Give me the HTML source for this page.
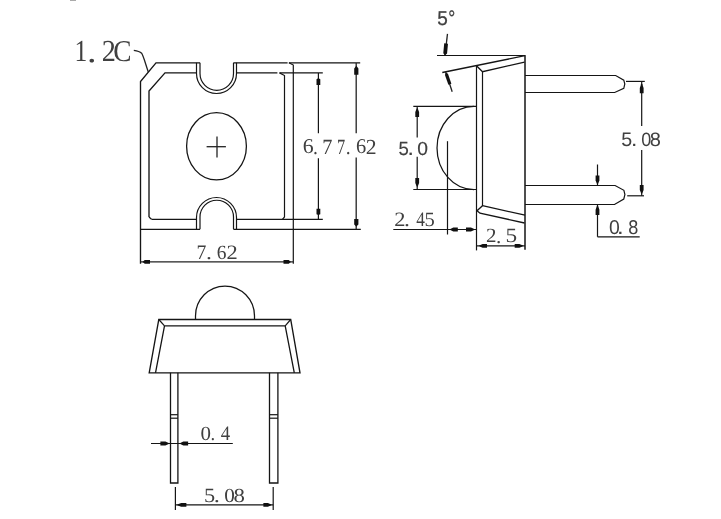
<!DOCTYPE html>
<html><head><meta charset="utf-8"><style>
html,body{margin:0;padding:0;background:#fff;}
body{width:721px;height:519px;overflow:hidden;font-family:"Liberation Sans", sans-serif;}
svg{display:block;will-change:transform;} text{text-rendering:geometricPrecision;}
</style></head><body>
<svg width="721" height="519" viewBox="0 0 721 519">
<rect width="721" height="519" fill="#fff"/>
<path d="M133.8,50.3 C137,50.8 139.5,51.2 141.6,53.2 C143.5,56 145.5,64 148.3,72" stroke="#222" stroke-width="1.3" fill="none"/>
<path d="M140.5,263.7 V81.5 L156,62.8 H200" stroke="#151515" stroke-width="1.35" fill="none"/>
<path d="M233.5,62.8 H287.6 M288.9,62.8 H360.2" stroke="#151515" stroke-width="1.35" fill="none"/>
<path d="M196.5,62.8 V73.5 A20,20 0 0 0 236.5,73.5 V62.8" stroke="#151515" stroke-width="1.2" fill="none"/>
<path d="M200,62.8 V73.6 A16.75,16.75 0 0 0 233.5,73.6 V62.8" stroke="#151515" stroke-width="1.2" fill="none"/>
<path d="M149,217 V91 L165,72.9 H196.5" stroke="#151515" stroke-width="1.35" fill="none"/>
<path d="M236.5,72.9 H277.4 M279.5,72.9 H322.8" stroke="#151515" stroke-width="1.35" fill="none"/>
<path d="M279.5,72.9 L284.5,75.5 V217 L282.4,219.3" stroke="#151515" stroke-width="1.2" fill="none"/>
<path d="M288.9,62.8 L293.3,65 V263.7" stroke="#151515" stroke-width="1.2" fill="none"/>
<path d="M151.5,219.3 L149,217" stroke="#151515" stroke-width="1.2" fill="none"/>
<path d="M151.5,219.3 H196.5 M236.5,219.3 H322.8" stroke="#151515" stroke-width="1.3" fill="none"/>
<path d="M140.5,229.3 H200 M233.5,229.3 H360.8" stroke="#151515" stroke-width="1.3" fill="none"/>
<path d="M196.5,229.3 V217.5 A20,20 0 0 1 236.5,217.5 V229.3" stroke="#151515" stroke-width="1.2" fill="none"/>
<path d="M200,229.3 V217 A16.75,16.75 0 0 1 233.5,217 V229.3" stroke="#151515" stroke-width="1.2" fill="none"/>
<ellipse cx="216.5" cy="146.3" rx="29.9" ry="33.6" stroke="#151515" stroke-width="1.3" fill="none"/>
<line x1="206.6" y1="146.7" x2="225.9" y2="146.7" stroke="#222" stroke-width="1.3"/>
<line x1="217" y1="136.6" x2="217" y2="157.5" stroke="#222" stroke-width="1.3"/>
<line x1="318.4" y1="73" x2="318.4" y2="133.3" stroke="#151515" stroke-width="1.2"/>
<line x1="318.4" y1="158.3" x2="318.4" y2="219.3" stroke="#151515" stroke-width="1.2"/>
<polygon points="318.4,77.8 319.0,78.6 320.29999999999995,79.24 320.29999999999995,85 316.5,85 316.5,79.24 317.79999999999995,78.6" fill="#111"/>
<polygon points="318.4,215.5 319.0,214.7 320.29999999999995,214.14 320.29999999999995,208.7 316.5,208.7 316.5,214.14 317.79999999999995,214.7" fill="#111"/>
<line x1="356.2" y1="63" x2="356.2" y2="133.3" stroke="#2a2a2a" stroke-width="1.35"/>
<line x1="356.2" y1="157.5" x2="356.2" y2="229" stroke="#2a2a2a" stroke-width="1.35"/>
<polygon points="356.3,65.8 356.90000000000003,66.6 358.40000000000003,68.50 358.40000000000003,74.8 354.2,74.8 354.2,68.50 355.7,66.6" fill="#111"/>
<polygon points="356.3,226.8 356.90000000000003,226.0 358.40000000000003,224.49 358.40000000000003,219.1 354.2,219.1 354.2,224.49 355.7,226.0" fill="#111"/>
<line x1="140.5" y1="261.9" x2="293" y2="261.9" stroke="#222" stroke-width="1.4"/>
<polygon points="142.5,261.9 143.3,262.5 144.75,263.79999999999995 150,263.79999999999995 150,260.0 144.75,260.0 143.3,261.29999999999995" fill="#111"/>
<polygon points="291,261.9 290.2,262.5 288.75,263.79999999999995 283.5,263.79999999999995 283.5,260.0 288.75,260.0 290.2,261.29999999999995" fill="#111"/>
<text transform="translate(302.66,153.39) scale(0.2178,0.2113)" font-family='"Liberation Serif", serif' font-size="100" fill="#404040">6</text>
<text transform="translate(313.01,153.90) scale(0.1949,0.2145)" font-family='"Liberation Serif", serif' font-size="100" fill="#404040">.</text>
<text transform="translate(322.26,153.60) scale(0.2025,0.2168)" font-family='"Liberation Serif", serif' font-size="100" fill="#404040">7</text>
<text transform="translate(337.12,153.60) scale(0.1630,0.2168)" font-family='"Liberation Serif", serif' font-size="100" fill="#404040">7</text>
<text transform="translate(345.71,153.90) scale(0.1949,0.2145)" font-family='"Liberation Serif", serif' font-size="100" fill="#404040">.</text>
<text transform="translate(356.02,153.39) scale(0.2037,0.2113)" font-family='"Liberation Serif", serif' font-size="100" fill="#404040">6</text>
<text transform="translate(365.85,153.60) scale(0.2170,0.2145)" font-family='"Liberation Serif", serif' font-size="100" fill="#404040">2</text>
<text transform="translate(196.60,258.70) scale(0.1975,0.2061)" font-family='"Liberation Serif", serif' font-size="100" fill="#404040">7</text>
<text transform="translate(206.03,258.99) scale(0.2373,0.2039)" font-family='"Liberation Serif", serif' font-size="100" fill="#404040">.</text>
<text transform="translate(216.86,258.50) scale(0.1944,0.2009)" font-family='"Liberation Serif", serif' font-size="100" fill="#404040">6</text>
<text transform="translate(226.41,258.70) scale(0.2244,0.2039)" font-family='"Liberation Serif", serif' font-size="100" fill="#404040">2</text>
<text transform="translate(74.55,61.10) scale(0.2557,0.3061)" font-family='"Liberation Serif", serif' font-size="100" fill="#404040">1</text>
<text transform="translate(86.88,61.53) scale(0.3814,0.3051)" font-family='"Liberation Serif", serif' font-size="100" fill="#404040">.</text>
<text transform="translate(101.66,61.10) scale(0.2818,0.3051)" font-family='"Liberation Serif", serif' font-size="100" fill="#404040">2</text>
<text transform="translate(113.28,60.80) scale(0.2732,0.3006)" font-family='"Liberation Serif", serif' font-size="100" fill="#404040">C</text>
<text transform="translate(437.24,24.50) scale(0.1899,0.1991)" font-family='"Liberation Sans", sans-serif' font-size="100" fill="#404040" stroke="#404040" stroke-width="1.26">5</text>
<text transform="translate(448.35,25.46) scale(0.1750,0.2100)" font-family='"Liberation Sans", sans-serif' font-size="100" fill="#404040" stroke="#404040" stroke-width="1.19">°</text>
<line x1="447.5" y1="33.8" x2="444.9" y2="55.3" stroke="#222" stroke-width="1.3"/>
<polygon points="445.00,55.30 447.08,53.48 447.99,43.68 444.21,43.32 443.29,53.13" fill="#111"/>
<line x1="437" y1="55.5" x2="525.5" y2="55.5" stroke="#151515" stroke-width="1.2"/>
<line x1="525" y1="55.5" x2="525" y2="249.7" stroke="#151515" stroke-width="1.5"/>
<line x1="442.3" y1="72.5" x2="525" y2="55.7" stroke="#151515" stroke-width="1.35"/>
<line x1="445.5" y1="71.5" x2="452.2" y2="91.7" stroke="#222" stroke-width="1.3"/>
<polygon points="445.80,72.50 444.95,74.91 448.39,84.83 451.41,83.77 447.97,73.86" fill="#111"/>
<line x1="476.5" y1="65.7" x2="476.5" y2="250.4" stroke="#151515" stroke-width="1.2"/>
<path d="M476.5,65.7 L482.5,71.7 L524.5,62.1" stroke="#151515" stroke-width="1.35" fill="none"/>
<line x1="482.5" y1="71.7" x2="482.5" y2="206" stroke="#151515" stroke-width="1.2"/>
<path d="M525,75.5 H615.7 L623.8,80.2 L624.8,84 L623.8,88.3 L614.7,92.5 H525" stroke="#151515" stroke-width="1.2" fill="none"/>
<path d="M525,185.5 H615.1 L623.9,190.3 L624.9,194.6 L623.8,199 L614.5,204.5 H525" stroke="#151515" stroke-width="1.2" fill="none"/>
<line x1="413.3" y1="106.3" x2="476.5" y2="106.3" stroke="#151515" stroke-width="1.2"/>
<line x1="413.3" y1="189.5" x2="476.5" y2="189.5" stroke="#151515" stroke-width="1.2"/>
<path d="M474,106.3 A37,41.6 0 0 0 474,189.5" stroke="#151515" stroke-width="1.25" fill="none"/>
<line x1="417.2" y1="106.3" x2="417.2" y2="137.4" stroke="#151515" stroke-width="1.2"/>
<line x1="417.2" y1="156.7" x2="417.2" y2="189.5" stroke="#151515" stroke-width="1.2"/>
<polygon points="417.2,108 417.8,108.8 419.09999999999997,112.05 419.09999999999997,117 415.3,117 415.3,112.05 416.59999999999997,108.8" fill="#111"/>
<polygon points="417.2,187 417.8,186.2 419.09999999999997,182.95 419.09999999999997,178 415.3,178 415.3,182.95 416.59999999999997,186.2" fill="#111"/>
<text transform="translate(398.46,154.51) scale(0.1857,0.1905)" font-family='"Liberation Sans", sans-serif' font-size="100" fill="#404040" stroke="#404040" stroke-width="0.79">5</text>
<text transform="translate(407.61,154.70) scale(0.2292,0.2009)" font-family='"Liberation Sans", sans-serif' font-size="100" fill="#404040" stroke="#404040" stroke-width="0.75">.</text>
<text transform="translate(417.25,154.51) scale(0.1925,0.1879)" font-family='"Liberation Sans", sans-serif' font-size="100" fill="#404040" stroke="#404040" stroke-width="0.80">0</text>
<line x1="447.5" y1="141.2" x2="447.5" y2="234.5" stroke="#151515" stroke-width="1.2"/>
<line x1="393.3" y1="229.5" x2="476.5" y2="229.5" stroke="#151515" stroke-width="1.2"/>
<polygon points="449.6,229.5 450.40000000000003,230.1 453.29,231.4 457.8,231.4 457.8,227.6 453.29,227.6 450.40000000000003,228.9" fill="#111"/>
<polygon points="475,229.5 474.2,230.1 470.95,231.4 466,231.4 466,227.6 470.95,227.6 474.2,228.9" fill="#111"/>
<text transform="translate(394.21,226.00) scale(0.2244,0.2039)" font-family='"Liberation Serif", serif' font-size="100" fill="#404040">2</text>
<text transform="translate(404.03,226.29) scale(0.2373,0.2039)" font-family='"Liberation Serif", serif' font-size="100" fill="#404040">.</text>
<text transform="translate(416.36,226.00) scale(0.1724,0.2052)" font-family='"Liberation Serif", serif' font-size="100" fill="#404040">4</text>
<text transform="translate(424.51,225.80) scale(0.2060,0.2030)" font-family='"Liberation Serif", serif' font-size="100" fill="#404040">5</text>
<path d="M482.5,205.7 L525,215.2" stroke="#151515" stroke-width="1.35" fill="none"/>
<path d="M482.5,205.7 L477,210.7 L480,213.2 L524.5,223" stroke="#151515" stroke-width="1.35" fill="none"/>
<line x1="476.5" y1="245.8" x2="525" y2="245.8" stroke="#151515" stroke-width="1.2"/>
<polygon points="479,245.8 479.8,246.4 482.60,247.70000000000002 487,247.70000000000002 487,243.9 482.60,243.9 479.8,245.20000000000002" fill="#111"/>
<polygon points="523.2,245.8 522.4000000000001,246.4 519.38,247.70000000000002 514.7,247.70000000000002 514.7,243.9 519.38,243.9 522.4000000000001,245.20000000000002" fill="#111"/>
<text transform="translate(485.98,242.40) scale(0.2095,0.2024)" font-family='"Liberation Serif", serif' font-size="100" fill="#404040">2</text>
<text transform="translate(496.10,242.68) scale(0.2119,0.2024)" font-family='"Liberation Serif", serif' font-size="100" fill="#404040">.</text>
<text transform="translate(505.45,242.20) scale(0.2333,0.2015)" font-family='"Liberation Serif", serif' font-size="100" fill="#404040">5</text>
<line x1="626" y1="81.4" x2="644.8" y2="81.4" stroke="#151515" stroke-width="1.2"/>
<line x1="627.2" y1="195.8" x2="644" y2="195.8" stroke="#151515" stroke-width="1.2"/>
<line x1="641.7" y1="81.4" x2="641.7" y2="126" stroke="#151515" stroke-width="1.2"/>
<line x1="641.7" y1="150" x2="641.7" y2="195.8" stroke="#151515" stroke-width="1.2"/>
<polygon points="641.7,83.5 642.3000000000001,84.3 643.6,87.91 643.6,93.3 639.8000000000001,93.3 639.8000000000001,87.91 641.1,84.3" fill="#111"/>
<polygon points="641.7,194 642.3000000000001,193.2 643.6,189.95 643.6,185 639.8000000000001,185 639.8000000000001,189.95 641.1,193.2" fill="#111"/>
<text transform="translate(621.32,145.90) scale(0.1962,0.1963)" font-family='"Liberation Sans", sans-serif' font-size="100" fill="#404040">5</text>
<text transform="translate(630.91,146.10) scale(0.2292,0.2069)" font-family='"Liberation Sans", sans-serif' font-size="100" fill="#404040">.</text>
<text transform="translate(641.20,145.91) scale(0.1799,0.1935)" font-family='"Liberation Sans", sans-serif' font-size="100" fill="#404040">0</text>
<text transform="translate(649.84,145.91) scale(0.2000,0.1935)" font-family='"Liberation Sans", sans-serif' font-size="100" fill="#404040">8</text>
<line x1="597.5" y1="164.5" x2="597.5" y2="185.5" stroke="#151515" stroke-width="1.2"/>
<polygon points="597.5,184.5 598.1,183.7 599.4,180.41 599.4,175.4 595.6,175.4 595.6,180.41 596.9,183.7" fill="#111"/>
<line x1="597.5" y1="204.3" x2="597.5" y2="236.8" stroke="#151515" stroke-width="1.2"/>
<polygon points="597.5,205.3 598.1,206.10000000000002 599.4,209.67 599.4,215 595.6,215 595.6,209.67 596.9,206.10000000000002" fill="#111"/>
<line x1="597.5" y1="236.8" x2="639.7" y2="236.8" stroke="#151515" stroke-width="1.2"/>
<text transform="translate(608.94,233.80) scale(0.1946,0.1992)" font-family='"Liberation Sans", sans-serif' font-size="100" fill="#404040">0</text>
<text transform="translate(617.02,234.00) scale(0.2396,0.2130)" font-family='"Liberation Sans", sans-serif' font-size="100" fill="#404040">.</text>
<text transform="translate(628.22,233.80) scale(0.1809,0.1992)" font-family='"Liberation Sans", sans-serif' font-size="100" fill="#404040">8</text>
<path d="M158.8,319.5 H290.7 L300,372.8 H149.2 Z" stroke="#151515" stroke-width="1.35" fill="none"/>
<path d="M164.5,325.8 H285.2 L294.3,372.8 M155.5,372.8 L164.5,325.8" stroke="#151515" stroke-width="1.3" fill="none"/>
<line x1="158.8" y1="319.5" x2="164.5" y2="325.8" stroke="#151515" stroke-width="1.2"/>
<line x1="290.7" y1="319.5" x2="285.2" y2="325.8" stroke="#151515" stroke-width="1.2"/>
<path d="M195.5,319.5 V316 A29.5,30 0 0 1 254.5,316 V319.5" stroke="#151515" stroke-width="1.25" fill="none"/>
<path d="M170.5,372.8 V483 H177.9 V372.8" stroke="#151515" stroke-width="1.3" fill="none"/>
<path d="M269.5,372.8 V483 H277.9 V372.8" stroke="#151515" stroke-width="1.3" fill="none"/>
<line x1="170.5" y1="414.7" x2="177.9" y2="414.7" stroke="#151515" stroke-width="1.2"/>
<line x1="170.5" y1="418.2" x2="177.9" y2="418.2" stroke="#151515" stroke-width="1.2"/>
<line x1="269.5" y1="414.7" x2="277.9" y2="414.7" stroke="#151515" stroke-width="1.2"/>
<line x1="269.5" y1="418.2" x2="277.9" y2="418.2" stroke="#151515" stroke-width="1.2"/>
<line x1="151" y1="443.5" x2="232.8" y2="443.5" stroke="#151515" stroke-width="1.2"/>
<polygon points="169.5,443.5 168.7,444.1 165.41,445.4 160.4,445.4 160.4,441.6 165.41,441.6 168.7,442.9" fill="#111"/>
<polygon points="179.5,443.5 180.3,444.1 183.37,445.4 188.1,445.4 188.1,441.6 183.37,441.6 180.3,442.9" fill="#111"/>
<text transform="translate(200.50,439.80) scale(0.2099,0.2015)" font-family='"Liberation Serif", serif' font-size="100" fill="#404040">0</text>
<text transform="translate(210.57,440.29) scale(0.1864,0.2054)" font-family='"Liberation Serif", serif' font-size="100" fill="#404040">.</text>
<text transform="translate(220.82,440.00) scale(0.1875,0.2067)" font-family='"Liberation Serif", serif' font-size="100" fill="#404040">4</text>
<line x1="175.4" y1="487" x2="175.4" y2="510" stroke="#151515" stroke-width="1.2"/>
<line x1="273.2" y1="487" x2="273.2" y2="510" stroke="#151515" stroke-width="1.2"/>
<line x1="175.4" y1="504.9" x2="273.2" y2="504.9" stroke="#151515" stroke-width="1.2"/>
<polygon points="177,504.9 177.8,505.5 181.23,506.79999999999995 186.4,506.79999999999995 186.4,503.0 181.23,503.0 177.8,504.29999999999995" fill="#111"/>
<polygon points="271.5,504.9 270.7,505.5 267.86,506.79999999999995 263.4,506.79999999999995 263.4,503.0 267.86,503.0 270.7,504.29999999999995" fill="#111"/>
<text transform="translate(203.90,501.50) scale(0.2233,0.2015)" font-family='"Liberation Serif", serif' font-size="100" fill="#404040">5</text>
<text transform="translate(213.68,501.98) scale(0.2458,0.2024)" font-family='"Liberation Serif", serif' font-size="100" fill="#404040">.</text>
<text transform="translate(224.19,501.50) scale(0.2123,0.1985)" font-family='"Liberation Serif", serif' font-size="100" fill="#404040">0</text>
<text transform="translate(233.53,501.50) scale(0.2288,0.1985)" font-family='"Liberation Serif", serif' font-size="100" fill="#404040">8</text>
<rect x="70" y="0" width="6" height="1" fill="#aaa"/>
</svg>
</body></html>
